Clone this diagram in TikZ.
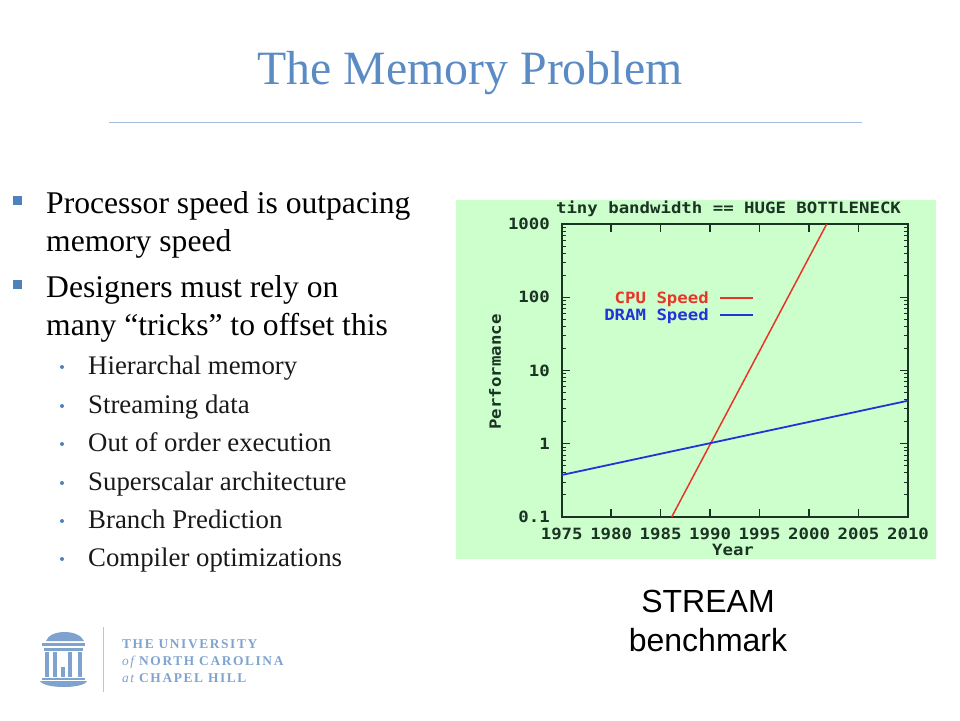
\documentclass[tikz,border=0pt]{standalone}
\usepackage{fontspec}
\setmainfont{Liberation Serif}
\newfontfamily\plotfont[FakeStretch=1.12]{DejaVu Sans Mono}
\newfontfamily\capfont{Liberation Sans}
\newfontfamily\logofont[LetterSpace=12]{Liberation Serif}
\usetikzlibrary{positioning}
\definecolor{slideblue}{HTML}{5B8BC4}
\definecolor{rulecolor}{HTML}{A3BEDD}
\definecolor{bulletblue}{HTML}{4F81BD}
\definecolor{plotgreen}{HTML}{CCFFCC}
\definecolor{plotink}{HTML}{1A3322}
\definecolor{cpured}{HTML}{E8352A}
\definecolor{dramblue}{HTML}{2433D6}
\definecolor{logoblue}{HTML}{7EA3CF}
\begin{document}
\begin{tikzpicture}[
          x=1pt, y=-1pt,
          title/.style = {anchor=base, text=slideblue, font=\fontsize{47.8}{48}\selectfont, inner sep=0pt},
          body/.style = {anchor=base west, text=black, font=\fontsize{31.6}{32}\selectfont, inner sep=0pt},
          subbody/.style = {anchor=base west, text=black!90, font=\fontsize{26.8}{27}\selectfont, inner sep=0pt},
          square/.style = {fill=bulletblue, minimum size=9pt, inner sep=0pt},
          dot/.style = {circle, fill=bulletblue, minimum size=4pt, inner sep=0pt},
          plottext/.style = {inner sep=0pt, text=plotink, font=\plotfont\bfseries\fontsize{15.5}{15.5}\selectfont},
          tick/.style = {draw=plotink, line width=1.4pt},
          logotext/.style = {anchor=base west, inner sep=0pt, text=logoblue, font=\logofont\bfseries\fontsize{13.4}{13.4}\selectfont},
          stream/.style = {anchor=base, inner sep=0pt, text=black, font=\capfont\fontsize{32}{32}\selectfont}
        ]
        \useasboundingbox (0,0) rectangle (960,720);

        % Title
        \node[title] (heading) at (470,84) {The Memory Problem};
        \draw[rulecolor, line width=0.8pt] (109,122) -- (862,122);

        % Bullets
        \node[square] (b1) at (17,200) {};
        \node[square] (b2) at (17,284) {};
        \node[body] (line1) at (46,213) {Processor speed is outpacing};
        \node[body] (line2) at (46,251) {memory speed};
        \node[body] (line3) at (46,297) {Designers must rely on};
        \node[body] (line4) at (46,335) {many ``tricks'' to offset this};

        % Sub bullets
        \foreach \name/\ypos/\txt in {a/374/Hierarchal memory, b/413/Streaming data, c/451/Out of order execution,
                                      d/490/Superscalar architecture, e/528/Branch Prediction, f/566/Compiler optimizations} {
          \node[dot] (dot\name) at (62,\ypos-7) {};
          \node[subbody] (sub\name) at (88,\ypos) {\txt};
        }

        % Plot
        \fill[plotgreen] (456,200) rectangle (936,559);
        \node[plottext, anchor=base] (plottitle) at (728.5,213) {tiny bandwidth == HUGE BOTTLENECK};
        \draw[plotink, line width=1.6pt] (561.7,224) rectangle (908,517);

        % Year ticks
        \foreach \yr in {1975,1980,...,2010} {
          \pgfmathsetmacro{\xpos}{561.7+(\yr-1975)*9.894}
          \draw[tick] (\xpos,224) -- ++(0,8);
          \draw[tick] (\xpos,517) -- ++(0,-8);
          \node[plottext, anchor=base] (yr\yr) at (\xpos,539) {\yr};
        }
        \node[plottext, anchor=base] (yearlabel) at (733,555) {Year};

        % Performance ticks
        \foreach \dec/\lab in {0/1000,1/100,2/10,3/1,4/0.1} {
          \pgfmathsetmacro{\ypos}{224+\dec*73.25}
          \draw[tick] (561.7,\ypos) -- ++(8,0);
          \draw[tick] (908,\ypos) -- ++(-8,0);
          \node[plottext, anchor=east] (perf\dec) at (550,\ypos) {\lab};
        }
        \foreach \dec in {0,1,2,3} {
          \foreach \m in {2,...,9} {
            \pgfmathsetmacro{\ypos}{224+(\dec+1-log10(\m))*73.25}
            \draw[tick, line width=1pt] (561.7,\ypos) -- ++(4.5,0);
            \draw[tick, line width=1pt] (908,\ypos) -- ++(-4.5,0);
          }
        }
        \node[plottext, rotate=90] (perflabel) at (495,372) {Performance};

        % Curves and legend
        \coordinate (cpustart) at (671.7,517);
        \coordinate (cpuend) at (826.7,224);
        \coordinate (dramstart) at (561.7,475);
        \coordinate (dramend) at (908,400.7);
        \draw[cpured, line width=1.5pt] (cpustart) -- (cpuend);
        \draw[dramblue, line width=1.8pt] (dramstart) -- (dramend);
        \node[plottext, anchor=base east, text=cpured] (cpulabel) at (709,303) {CPU Speed};
        \node[plottext, anchor=base east, text=dramblue] (dramlabel) at (709,320) {DRAM Speed};
        \draw[cpured, line width=1.5pt] (720,298) -- (753,298);
        \draw[dramblue, line width=1.8pt] (720,315) -- (753,315);

        % Caption
        \node[stream] (cap1) at (708,612) {STREAM};
        \node[stream] (cap2) at (708,651) {benchmark};

        % Logo
        \draw[logoblue!60, line width=0.8pt] (103,627) -- (103,692);
        \fill[logoblue] (46,641) .. controls (50,629) and (79,629) .. (84,641) -- cycle;
        \fill[logoblue] (42,643) rectangle (85,646);
        \fill[logoblue] (44,648) rectangle (83,650.5);
        \foreach \cx in {47,55,70,80} {
          \fill[logoblue] (\cx-1.8,652) rectangle (\cx+1.8,677);
        }
        \fill[logoblue] (60.5,667) rectangle (64.5,677);
        \fill[logoblue] (42,677.5) rectangle (85,679.5);
        \fill[logoblue] (40,681) -- (87,681) .. controls (84,689) and (44,689) .. (40,681) -- cycle;
        \node[logotext] (uni1) at (122,648) {THE UNIVERSITY};
        \node[logotext] (uni2) at (122,665) {{\itshape\mdseries of} NORTH CAROLINA};
        \node[logotext] (uni3) at (122,682) {{\itshape\mdseries at} CHAPEL HILL};

      \end{tikzpicture}
\end{document}
